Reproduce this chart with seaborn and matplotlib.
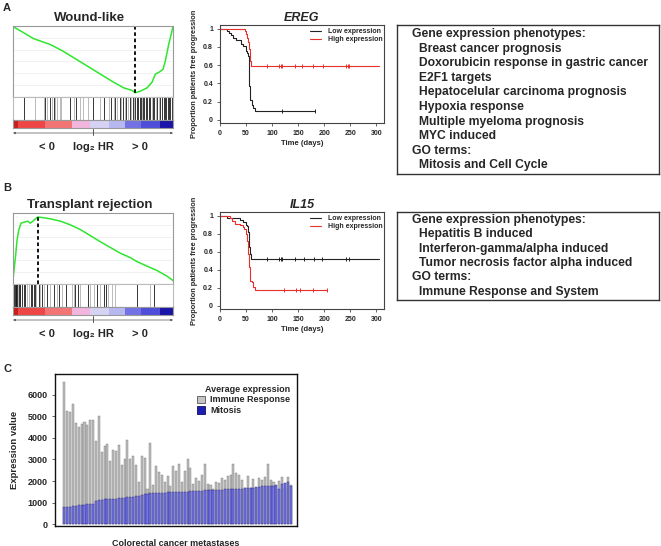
import numpy as np
import pandas as pd
import matplotlib
matplotlib.use('Agg')
import matplotlib.pyplot as plt
import seaborn as sns
from matplotlib.patches import Patch
from matplotlib.lines import Line2D

# ---- data ----
# GSEA running enrichment score (rank fraction, ES)
wound_rank = [0, .046, .129, .233, .306, .379, .463, .546, .629, .692, .744, .765,
              .796, .838, .869, .890, .917, .938, .952, .973, .988, 1.0]
wound_es = [0, -.036, -.103, -.153, -.204, -.265, -.335, -.405, -.474, -.522, -.544, -.564,
            -.550, -.522, -.474, -.405, -.385, -.363, -.293, -.153, -.070, 0]
wound_hits_dark = [.067, .202, .233, .254, .358, .396, .5, .571, .615, .640, .667, .688, .708,
                   .729, .748, .765, .775, .783, .792, .8, .813, .821, .829, .838, .848, .858,
                   .875, .883, .9, .921, .931, .942, .95, .958, .967, .975, .983, .992]
wound_hits_light = [.14, .192, .213, .244, .265, .275, .292, .302, .383, .421, .435, .467, .546,
                    .598, .629, .65, .675, .702, .719, .738, .754, .806, .869, .892, .91]

trans_rank = [0, .015, .025, .035, .05, .071, .092, .108, .123, .140, .154, .192, .233, .296,
              .358, .421, .483, .546, .608, .671, .733, .775, .838, .9, .963, 1.0]
trans_es = [.037, .223, .366, .451, .514, .523, .531, .514, .529, .551, .566, .560, .551, .531,
            .500, .460, .409, .357, .309, .260, .223, .189, .151, .114, .066, .029]
trans_hits_dark = [.008, .013, .017, .021, .025, .035, .046, .056, .067, .077, .113, .121, .129,
                   .138, .160, .181, .213, .254, .285, .333, .390, .404, .467, .525, .567, .579,
                   .775, .883]
trans_hits_light = [.029, .042, .088, .098, .146, .171, .192, .233, .275, .306, .369, .379, .421,
                    .483, .508, .546, .592, .619, .640, .858]

# ranked log2 HR colour strip
strip_edges = [0, .03, .2, .37, .48, .6, .7, .8, .92, 1.0]
strip_colors = ['#c81e1e', '#ee4646', '#f27474', '#f2b6de', '#d6d2f4', '#b8b8f0', '#7272e4',
                '#4e4ed8', '#1a14a8']

# Kaplan-Meier curves (days, proportion)
ereg_low_t = [0, 14, 17, 22, 25, 30, 41, 45, 49, 50, 52, 54, 55, 56, 58, 61, 64, 68, 183]
ereg_low_s = [1, .975, .948, .926, .90, .874, .83, .815, .79, .752, .733, .70, .55, .37, .215,
              .16, .133, .096, .096]
ereg_low_cens = [120, 183]
ereg_high_t = [0, 48, 50, 52, 54, 56, 57, 58, 60, 306]
ereg_high_s = [1, .97, .94, .90, .85, .78, .70, .65, .585, .585]
ereg_high_cens = [91, 114, 117, 120, 144, 157, 178, 197, 242, 245, 248]

il15_low_t = [0, 14, 39, 44, 49, 51, 54, 55, 56, 58, 60, 306]
il15_low_s = [1, .975, .95, .93, .90, .88, .82, .72, .65, .58, .515, .515]
il15_low_cens = [91, 114, 117, 120, 144, 162, 181, 196, 242, 247]
il15_high_t = [0, 20, 24, 28, 39, 44, 47, 50, 52, 54, 56, 57, 61, 64, 67, 205]
il15_high_s = [1, .975, .94, .91, .90, .87, .85, .80, .72, .57, .43, .28, .26, .21, .18, .18]
il15_high_cens = [122, 146, 154, 178, 205]

ereg_terms = ['Gene expression phenotypes:', 'Breast cancer prognosis',
              'Doxorubicin response in gastric cancer', 'E2F1 targets',
              'Hepatocelular carcinoma prognosis', 'Hypoxia response',
              'Multiple myeloma prognosis', 'MYC induced', 'GO terms:',
              'Mitosis and Cell Cycle']
il15_terms = ['Gene expression phenotypes:', 'Hepatitis B induced',
              'Interferon-gamma/alpha induced', 'Tumor necrosis factor alpha induced',
              'GO terms:', 'Immune Response and System']

# Panel C: average expression per metastasis
immune = [6600, 5260, 5215, 5570, 4680, 4520, 4615, 4750, 4570, 4830, 4830, 3830, 4985, 3320,
          3600, 3720, 2920, 3450, 3400, 3660, 2720, 3000, 3880, 3000, 3140, 2750, 1970, 3180,
          3050, 1630, 3780, 1830, 2700, 2420, 2280, 1960, 2220, 1780, 2680, 2450, 2780, 1960,
          2450, 3000, 2620, 1860, 2150, 2000, 2280, 2800, 1880, 1800, 1650, 1960, 1900, 2120,
          2050, 2220, 2300, 2800, 2350, 2300, 2060, 1700, 2250, 1700, 2080, 1700, 2150, 2050,
          2180, 2780, 2070, 1950, 1650, 2020, 2200, 1700, 2200, 1800]
mitosis = [780, 790, 800, 840, 860, 870, 880, 900, 930, 950, 960, 1080, 1100, 1140, 1150, 1160,
           1170, 1180, 1190, 1200, 1210, 1220, 1250, 1270, 1280, 1290, 1300, 1370, 1410, 1420,
           1430, 1430, 1440, 1440, 1450, 1460, 1470, 1480, 1480, 1490, 1500, 1500, 1510, 1510,
           1520, 1530, 1540, 1550, 1560, 1570, 1570, 1580, 1590, 1590, 1600, 1600, 1610, 1620,
           1630, 1630, 1640, 1650, 1650, 1660, 1670, 1680, 1700, 1720, 1730, 1750, 1760, 1770,
           1780, 1790, 1800, 1650, 1850, 1900, 1960, 1780]

sns.set_style('white')
plt.rcParams['font.family'] = ['Liberation Sans', 'DejaVu Sans']
plt.rcParams['font.weight'] = 'bold'
plt.rcParams['axes.labelweight'] = 'bold'
plt.rcParams['axes.titleweight'] = 'bold'

W, H = 661, 546
fig = plt.figure(figsize=(W / 100, H / 100), dpi=100)


def box(x0, y0, x1, y1):
    # axes from pixel corners (top-left origin)
    return fig.add_axes([x0 / W, 1 - y1 / H, (x1 - x0) / W, (y1 - y0) / H])


def ftext(x, y, s, **kw):
    kw.setdefault('va', 'center')
    kw.setdefault('fontweight', 'bold')
    fig.text(x / W, 1 - y / H, s, **kw)


def bold_ticks(ax):
    for lab in ax.get_xticklabels() + ax.get_yticklabels():
        lab.set_fontweight('bold')


def gsea_panel(top, title, rank, es, dark, light, ylim, pos):
    ax = box(13, top, 173, top + 71)
    sns.lineplot(x=rank, y=es, color='#2ee62e', lw=1.1, ax=ax, estimator=None, sort=False)
    es_arr = np.array(es)
    k = es_arr.argmax() if pos else es_arr.argmin()
    base = ylim[0] if pos else ylim[1]
    ax.plot([rank[k], rank[k]], [base, es[k]], color='k', lw=1.3, ls=(0, (2, 1.5)))
    ax.set_xlim(0, 1)
    ax.set_ylim(*ylim)
    ax.set_xticks([])
    ax.set_yticks(np.linspace(ylim[0], ylim[1], 7)[1:-1])
    ax.set_yticklabels([])
    ax.tick_params(length=0)
    ax.grid(axis='y', color='#ececec', lw=0.5)
    for s in ax.spines.values():
        s.set_color('#999999')

    axb = box(13, top + 71, 173, top + 94)
    axb.vlines(light, 0, 1, color='#b0b0b0', lw=0.6)
    axb.vlines(dark, 0, 1, color='#151515', lw=0.6)
    axb.set_xlim(0, 1)
    axb.set_ylim(0, 1)
    axb.set_xticks([])
    axb.set_yticks([])
    for s in axb.spines.values():
        s.set_color('#bbbbbb')

    axc = box(13, top + 94, 173, top + 101.5)
    for a, b, c in zip(strip_edges[:-1], strip_edges[1:], strip_colors):
        axc.axvspan(a, b, color=c, lw=0)
    axc.set_xlim(0, 1)
    axc.set_xticks([])
    axc.set_yticks([])
    for s in axc.spines.values():
        s.set_color('#999999')

    axa = box(13, top + 103, 173, top + 111)
    axa.set_xlim(0, 1)
    axa.set_ylim(0, 1)
    axa.axis('off')
    axa.annotate('', xy=(0, 0.5), xytext=(1, 0.5),
                 arrowprops=dict(arrowstyle='<|-|>', lw=0.5, color='#555555',
                                 mutation_scale=3, shrinkA=0, shrinkB=0))
    axa.plot([0.5, 0.5], [0.2, 1.0], color='#555555', lw=0.7)

    ftext(90, top - 8, title, ha='center', fontsize=9.5)
    ftext(47, top + 121, '< 0', ha='center', fontsize=8)
    ftext(93, top + 121, 'log\u2082 HR', ha='center', fontsize=8)
    ftext(140, top + 121, '> 0', ha='center', fontsize=8)


def step_at(t, s, x):
    i = np.searchsorted(t, x, side='right') - 1
    return np.array(s)[i]


def km_panel(top, bottom, title, lt, ls_, lc, ht, hs, hc):
    ax = box(220, top, 384, bottom)
    sns.lineplot(x=lt, y=ls_, color='#222222', lw=0.8, drawstyle='steps-post', ax=ax,
                 estimator=None, sort=False)
    sns.lineplot(x=ht, y=hs, color='#e8312d', lw=0.8, drawstyle='steps-post', ax=ax,
                 estimator=None, sort=False)
    ax.plot(lc, step_at(lt, ls_, lc), ls='none', marker='|', ms=3, mew=0.7, color='#222222')
    ax.plot(hc, step_at(ht, hs, hc), ls='none', marker='|', ms=3, mew=0.7, color='#e8312d')
    ax.set_xlim(0, 315)
    ax.set_ylim(-0.035, 1.04)
    ax.set_xticks([0, 50, 100, 150, 200, 250, 300])
    ax.set_yticks([0, 0.2, 0.4, 0.6, 0.8, 1])
    ax.set_yticklabels(['0', '0.2', '0.4', '0.6', '0.8', '1'])
    ax.tick_params(labelsize=5, length=2, width=0.5, pad=3, left=True, bottom=True)
    bold_ticks(ax)
    ax.set_xlabel('Time (days)', fontsize=5.5, labelpad=2)
    ax.set_ylabel('Proportion patients free progression', fontsize=5.3, labelpad=4)
    ax.set_title(title, fontsize=9, style='italic', pad=3)
    for s in ax.spines.values():
        s.set_color('#444444')
        s.set_linewidth(0.8)
    handles = [Line2D([], [], color='#222222', lw=0.8), Line2D([], [], color='#e8312d', lw=0.8)]
    ax.legend(handles, ['Low expression', 'High expression'], loc='upper left',
              bbox_to_anchor=((310 - 220) / 164, 1 - 3 / (bottom - top)), frameon=False,
              fontsize=5, handlelength=1.6, handletextpad=1.0, labelspacing=0.15,
              borderpad=0, borderaxespad=0)


def term_box(top, bottom, y0, terms, step):
    ax = box(397, top, 659, bottom)
    ax.set_xticks([])
    ax.set_yticks([])
    for s in ax.spines.values():
        s.set_color('#333333')
        s.set_linewidth(1)
    for i, t in enumerate(terms):
        head = t.endswith(':')
        ftext(412 if head else 419, y0 + i * step, t, ha='left', fontsize=8.7)


# panel A
ftext(3, 8, 'A', fontsize=8)
gsea_panel(26, 'Wound-like', wound_rank, wound_es, wound_hits_dark, wound_hits_light,
           (-0.6, 0.005), False)
km_panel(25, 123, 'EREG', ereg_low_t, ereg_low_s, ereg_low_cens,
         ereg_high_t, ereg_high_s, ereg_high_cens)
term_box(25, 174, 34, ereg_terms, 14.6)

# panel B
ftext(3, 188, 'B', fontsize=8)
gsea_panel(213, 'Transplant rejection', trans_rank, trans_es, trans_hits_dark,
           trans_hits_light, (0, 0.6), True)
km_panel(212, 309, 'IL15', il15_low_t, il15_low_s, il15_low_cens,
         il15_high_t, il15_high_s, il15_high_cens)
term_box(212, 300, 220, il15_terms, 14.3)

# panel C
ftext(3, 369, 'C', fontsize=8)
axc = box(55, 374, 297, 526)
df = pd.DataFrame({'sample': range(len(immune)), 'immune': immune, 'mitosis': mitosis})
sns.barplot(data=df, x='sample', y='immune', color='#bdbdbd', edgecolor='#7a7a7a',
            linewidth=0.3, width=0.72, saturation=1, ax=axc)
sns.barplot(data=df, x='sample', y='mitosis', color='#7878e6', edgecolor='#20207a',
            linewidth=0.3, width=0.72, saturation=1, ax=axc)
axc.set_xlim(-3.3, 81.2)
axc.set_ylim(-80, 6950)
axc.set_xticks([])
axc.set_yticks(range(0, 7000, 1000))
axc.tick_params(axis='y', labelsize=6.5, length=2, width=0.5, left=True)
bold_ticks(axc)
axc.set_xlabel('Colorectal cancer metastases', fontsize=6.5, labelpad=9)
axc.set_ylabel('Expression value', fontsize=6.8, labelpad=6)
for s in axc.spines.values():
    s.set_color('#111111')
    s.set_linewidth(1)
leg = axc.legend([Patch(facecolor='#c4c4c4', edgecolor='#555555', lw=0.6),
                  Patch(facecolor='#1e1eb4', edgecolor='#10105a', lw=0.6)],
                 ['Immune Response', 'Mitosis'], title='Average expression',
                 loc='upper right', bbox_to_anchor=(0.99, 0.96), frameon=False,
                 prop={'size': 6.5, 'weight': 'bold'}, title_fontsize=6.5,
                 handlelength=0.9, handleheight=0.9,
                 handletextpad=0.6, labelspacing=0.2, borderpad=0)
leg.get_title().set_fontweight('bold')
leg._legend_box.align = 'right'

fig.savefig('out.png', dpi=100)
